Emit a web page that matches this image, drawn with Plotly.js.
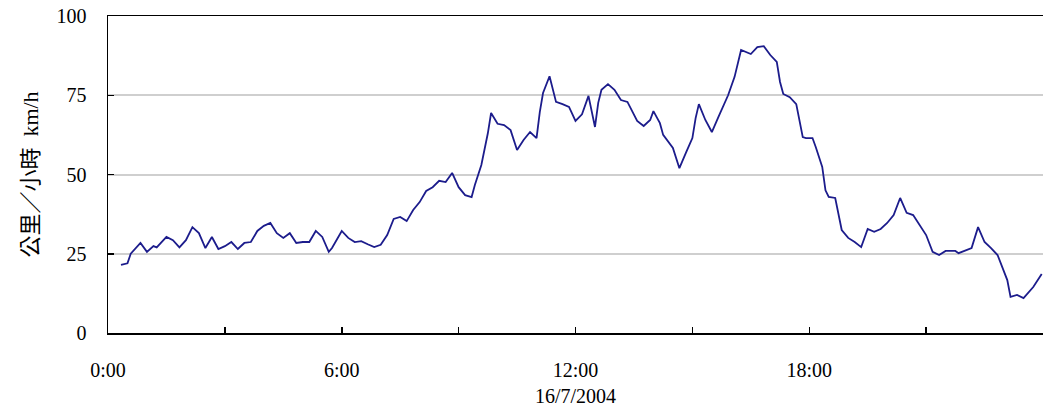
<!DOCTYPE html>
<html>
<head>
<meta charset="utf-8">
<script src="https://cdn.plot.ly/plotly-3.0.1.min.js"></script>
<style>html,body{margin:0;padding:0;background:#fff;}#chart{width:1044px;height:412px;}</style>
</head>
<body>
<div id="chart"></div>
<script>
const day = "2004-07-16";
const times = ["00:20","00:30","00:35","00:50","01:00","01:10","01:15","01:30","01:40","01:50",
"02:00","02:10","02:20","02:30","02:40","02:50","03:00","03:10","03:20","03:30",
"03:40","03:50","04:00","04:10","04:20","04:30","04:40","04:50","05:00","05:10",
"05:20","05:30","05:40","05:45","06:00","06:10","06:20","06:30","06:40","06:50",
"07:00","07:10","07:20","07:30","07:40","07:50","08:00","08:10","08:20","08:30",
"08:40","08:50","09:00","09:10","09:20","09:25","09:35","09:40","09:45","09:50",
"10:00","10:10","10:20","10:30","10:40","10:50","11:00","11:05","11:10","11:20",
"11:25","11:30","11:40","11:50","12:00","12:10","12:20","12:30","12:35","12:40",
"12:50","13:00","13:10","13:20","13:35","13:45","13:55","14:00","14:10","14:15",
"14:30","14:40","14:50","15:00","15:05","15:10","15:20","15:30","15:40","15:55",
"16:05","16:15","16:30","16:40","16:50","17:00","17:10","17:15","17:20","17:30",
"17:40","17:50","17:55","18:05","18:10","18:20","18:25","18:30","18:40","18:50",
"19:00","19:10","19:20","19:30","19:40","19:50","20:00","20:10","20:20","20:30",
"20:40","20:50","21:00","21:10","21:20","21:30","21:45","21:50","22:00","22:10",
"22:20","22:30","22:40","22:50","23:05","23:10","23:20","23:30","23:45","23:58"];
const speeds = [21.5,22,25,28.4,25.6,27.4,27,30.3,29.3,27,
29.3,33.4,31.5,26.8,30.3,26.5,27.4,28.7,26.5,28.4,
28.7,32.2,33.8,34.7,31.5,30,31.5,28.4,28.7,28.7,
32.2,30.3,25.6,26.8,32.2,30,28.7,29,28,27.1,
27.8,30.9,36,36.6,35.3,38.8,41.3,44.8,46,48,
47.6,50.5,46,43.5,42.9,46.7,53,57.7,63,69.4,
66,65.6,64,57.7,60.9,63.4,61.5,69.7,75.7,81,
76.7,72.9,72.2,71.3,66.9,69,74.8,65,72.6,76.7,
78.5,76.7,73.5,72.9,66.9,65.3,67.2,70,66.2,62.5,
58.4,52,56.8,61.5,67.8,72.2,67.2,63.4,68.1,75,
80.8,89.3,88,90.2,90.5,87.7,85.5,79.2,75.4,74.4,
72.2,61.8,61.5,61.5,58.7,52.4,45,42.9,42.6,32.5,
30,28.7,27.1,32.8,31.9,32.8,34.7,37.2,42.6,37.9,
37.2,34,30.9,25.6,24.6,25.9,25.9,25.2,25.9,26.8,
33.4,28.7,26.8,24.6,16.7,11.4,12,11,14.5,18.6];
const xTickTimes = ["00:00","03:00","06:00","09:00","12:00","15:00","18:00","21:00"];
const xTickLabels = ["0:00","","6:00","","12:00<br>16/7/2004","","18:00",""];
const yTicks = [0,25,50,75,100];
const yTitle = "公里／小時&nbsp;&nbsp;km/h";

const serif = "Liberation Serif, 'Noto Sans CJK TC', serif";
const trace = {
  x: times.map(t => day + " " + t),
  y: speeds,
  type: "scatter",
  mode: "lines",
  line: {color: "#1c1c8c", width: 1.8},
  hoverinfo: "skip"
};
const layout = {
  width: 1044, height: 412,
  margin: {l: 108, r: 1, t: 16, b: 79},
  paper_bgcolor: "#fff", plot_bgcolor: "#fff",
  showlegend: false,
  font: {family: serif, size: 20, color: "#000"},
  xaxis: {
    type: "date",
    range: [day + " 00:00", "2004-07-17 00:00"],
    tickmode: "array",
    tickvals: xTickTimes.map(t => day + " " + t),
    ticktext: xTickLabels,
    ticks: "inside", ticklen: 6, tickwidth: 1.5, tickcolor: "#000",
    showline: true, linecolor: "#000", linewidth: 1.5, mirror: true,
    showgrid: false, zeroline: false,
    ticklabelstandoff: 18,
    tickfont: {family: serif, size: 20, color: "#000"}
  },
  yaxis: {
    range: [0, 100],
    tickmode: "array", tickvals: yTicks,
    ticks: "inside", ticklen: 6, tickwidth: 1.5, tickcolor: "#000",
    showline: true, linecolor: "#000", linewidth: 1.5,
    showgrid: true, gridcolor: "#cfcfcf", gridwidth: 2,
    zeroline: false,
    ticklabelstandoff: 16,
    tickfont: {family: serif, size: 20, color: "#000"},
    title: {text: yTitle, font: {family: serif, size: 22, color: "#000"}, standoff: 12}
  }
};
Plotly.newPlot("chart", [trace], layout, {displayModeBar: false, staticPlot: true});
</script>
</body>
</html>
